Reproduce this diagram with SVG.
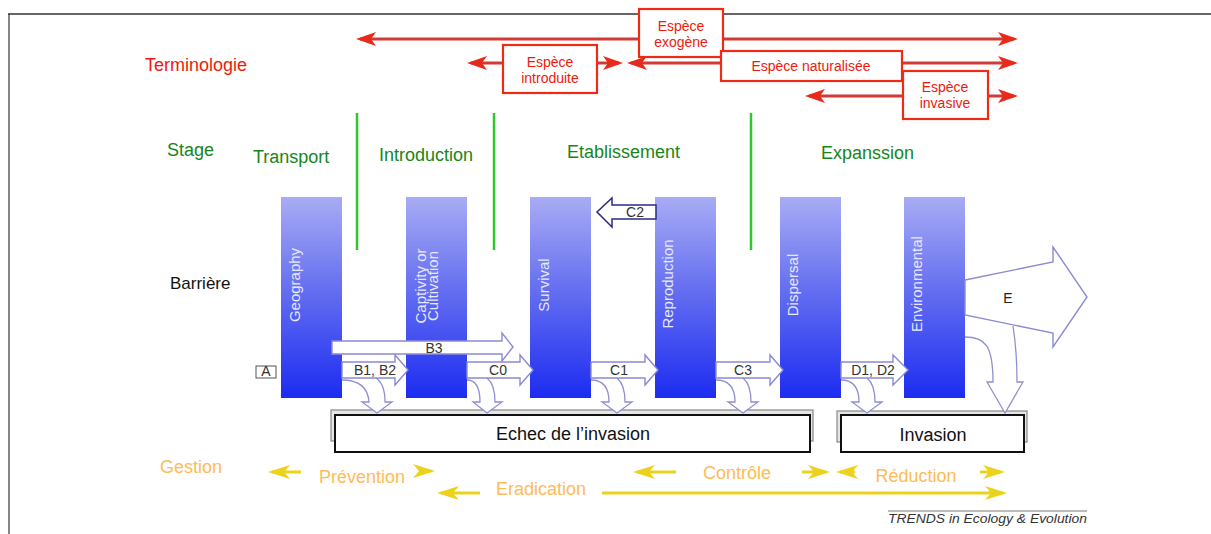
<svg xmlns="http://www.w3.org/2000/svg" width="1211" height="534" viewBox="0 0 1211 534">
<defs>
<linearGradient id="pg" x1="0" y1="0" x2="0" y2="1">
<stop offset="0" stop-color="#a8acf4"/>
<stop offset="0.45" stop-color="#6670f0"/>
<stop offset="1" stop-color="#1c2cf0"/>
</linearGradient>
<marker id="rh" viewBox="0 0 20 14" refX="16" refY="7" markerWidth="20" markerHeight="14" markerUnits="userSpaceOnUse" orient="auto-start-reverse">
<path d="M0,0 L20,7 L0,14 L5,7 z" fill="#e82a1c"/>
</marker>
<marker id="yh" viewBox="0 0 22 14" refX="18" refY="7" markerWidth="22" markerHeight="14" markerUnits="userSpaceOnUse" orient="auto-start-reverse">
<path d="M0,0 L22,7 L0,14 L6,7 z" fill="#ecd21a"/>
</marker>
</defs>
<style>
.t{font-family:"Liberation Sans",Arial,sans-serif}
.red{fill:#ee1a0c;font-size:14px;text-anchor:middle}
.rbox{fill:#fff;stroke:#f02a14;stroke-width:2.2}
.rline{stroke:#d23a36;stroke-width:3;fill:none}
.green{fill:#17861a;font-size:18px}
.gline{stroke:#2cc82c;stroke-width:2.5}
.pillar{fill:url(#pg)}
.plab{fill:#e6e8ff;font-size:15px;text-anchor:middle}
.harr{fill:#fff;stroke:#8a8ad6;stroke-width:1.4}
.darr{fill:#fff;stroke:#9090d0;stroke-width:1.3}
.alab{fill:#333;font-size:14px;text-anchor:middle}
.orange{fill:#ffbb55;font-size:18px}
.yline{stroke:#ecd21a;stroke-width:3;fill:none}
</style>
<rect width="1211" height="534" fill="#fff"/>
<g id="frame">
<line x1="8" y1="14" x2="1211" y2="14" stroke="#666" stroke-width="2"/>
<line x1="9" y1="14" x2="9" y2="534" stroke="#333" stroke-width="1.2"/>
</g>
<g id="row-labels" class="t">
<text x="145" y="71" fill="#ee1a0c" font-size="18">Terminologie</text>
<text x="167" y="156" class="green">Stage</text>
<text x="170" y="289" fill="#111" font-size="17">Barrière</text>
<text x="160" y="473" class="orange">Gestion</text>
</g>
<g id="connectors">
<g id="terminology-arrows">
<line class="rline" x1="360" y1="39" x2="1014" y2="39" marker-start="url(#rh)" marker-end="url(#rh)"/>
<line class="rline" x1="471" y1="63" x2="619" y2="63" marker-start="url(#rh)" marker-end="url(#rh)"/>
<line class="rline" x1="631" y1="63" x2="1014" y2="63" marker-start="url(#rh)" marker-end="url(#rh)"/>
<line class="rline" x1="809" y1="96" x2="1014" y2="96" marker-start="url(#rh)" marker-end="url(#rh)"/>
</g>
</g>
<g id="term-exogene" class="t">
<rect class="rbox" x="639" y="9" width="84" height="48"/>
<text class="red" x="681" y="31">Espèce</text>
<text class="red" x="681" y="47">exogène</text>
</g>
<g id="term-introduite" class="t">
<rect class="rbox" x="503" y="45" width="94" height="48"/>
<text class="red" x="550" y="67">Espèce</text>
<text class="red" x="550" y="83">introduite</text>
</g>
<g id="term-naturalisee" class="t">
<rect class="rbox" x="721" y="51" width="181" height="30"/>
<text class="red" x="811" y="71">Espèce naturalisée</text>
</g>
<g id="term-invasive" class="t">
<rect class="rbox" x="903" y="71" width="85" height="48"/>
<text class="red" x="945" y="92">Espèce</text>
<text class="red" x="945" y="108">invasive</text>
</g>
<g id="stages" class="t">
<text class="green" x="253" y="163">Transport</text>
<text class="green" x="379" y="161">Introduction</text>
<text class="green" x="567" y="158">Etablissement</text>
<text class="green" x="821" y="159">Expanssion</text>
<line class="gline" x1="357" y1="113" x2="357" y2="250"/>
<line class="gline" x1="494" y1="113" x2="494" y2="250"/>
<line class="gline" x1="751" y1="113" x2="751" y2="250"/>
</g>
<g id="barrier-geography" class="t">
<rect class="pillar" x="281" y="197" width="61" height="201"/>
<text class="plab" transform="translate(300,285) rotate(-90)">Geography</text>
</g>
<g id="barrier-captivity" class="t">
<rect class="pillar" x="406" y="197" width="61" height="201"/>
<text class="plab" transform="translate(426,286) rotate(-90)">Captivity or</text>
<text class="plab" transform="translate(438,286) rotate(-90)">Cultivation</text>
</g>
<g id="barrier-survival" class="t">
<rect class="pillar" x="530" y="197" width="61" height="201"/>
<text class="plab" transform="translate(549,285) rotate(-90)">Survival</text>
</g>
<g id="barrier-reproduction" class="t">
<rect class="pillar" x="655" y="197" width="61" height="201"/>
<text class="plab" transform="translate(673,284) rotate(-90)">Reproduction</text>
</g>
<g id="barrier-dispersal" class="t">
<rect class="pillar" x="780" y="197" width="61" height="201"/>
<text class="plab" transform="translate(798,285) rotate(-90)">Dispersal</text>
</g>
<g id="barrier-environmental" class="t">
<rect class="pillar" x="904" y="197" width="61" height="201"/>
<text class="plab" transform="translate(922,284) rotate(-90)">Environmental</text>
</g>
<g id="outcome-echec" class="t">
<rect x="331" y="410" width="482" height="31" fill="#e6e6e6" stroke="#888" stroke-width="1.2"/>
<rect x="335" y="415" width="475" height="37" fill="#fff" stroke="#111" stroke-width="2"/>
<text x="573" y="440" fill="#111" font-size="18" text-anchor="middle">Echec de l’invasion</text>
</g>
<g id="outcome-invasion" class="t">
<rect x="837" y="411" width="190" height="31" fill="#e6e6e6" stroke="#888" stroke-width="1.2"/>
<rect x="841" y="415" width="183" height="37" fill="#fff" stroke="#111" stroke-width="2"/>
<text x="933" y="441" fill="#111" font-size="18" text-anchor="middle">Invasion</text>
</g>
<g id="pathway-arrows" class="t">
<path class="darr" d="M342,380 C360,380 368,388 369,402 L362,402 L377,413 L392,402 L385,402 C385,390 382,382 376,378"/>
<path class="darr" d="M467,380 C476,380 480,388 480,402 L473,402 L487,413 L502,402 L495,402 C495,390 492,382 487,378"/>
<path class="darr" d="M591,380 C604,380 609,388 609,402 L602,402 L617,413 L632,402 L625,402 C625,390 622,382 617,378"/>
<path class="darr" d="M716,380 C729,380 735,388 735,402 L728,402 L743,413 L758,402 L751,402 C751,390 748,382 743,378"/>
<path class="darr" d="M841,380 C853,380 859,388 859,402 L852,402 L867,413 L882,402 L875,402 C875,390 872,382 867,378"/>
<polygon class="harr" points="965,280 1053,262 1053,247 1087,297 1053,347 1053,333 965,315"/>
<path class="darr" d="M965,337 C985,337 993,345 993,382 L987,382 L1005,413 L1023,382 L1017,382 C1017,360 1016,345 1013,326"/>
<text x="1008" y="303" fill="#222" font-size="14" text-anchor="middle">E</text>
<polygon class="harr" stroke="#a8a8e0" points="332,341 502,341 502,333 513,347 502,361 502,354 332,354"/>
<text class="alab" x="434" y="353">B3</text>
<polygon class="harr" points="342,362 395,362 395,355 408,370 395,385 395,378 342,378"/>
<text class="alab" x="375" y="375">B1, B2</text>
<polygon class="harr" points="467,362 520,362 520,355 533,370 520,385 520,378 467,378"/>
<text class="alab" x="498" y="375">C0</text>
<polygon class="harr" points="591,362 645,362 645,355 658,370 645,385 645,378 591,378"/>
<text class="alab" x="619" y="375">C1</text>
<polygon class="harr" points="716,362 770,362 770,355 783,370 770,385 770,378 716,378"/>
<text class="alab" x="743" y="375">C3</text>
<polygon class="harr" points="841,362 893,362 893,355 908,370 893,385 893,378 841,378"/>
<text class="alab" x="873" y="375">D1, D2</text>
<polygon fill="#fff" stroke="#2a2a86" stroke-width="1.5" points="656,205 612,205 612,198 597,212 612,227 612,219 656,219"/>
<text class="alab" x="635" y="217">C2</text>
<rect x="256" y="366" width="20" height="12" fill="#fff" stroke="#555" stroke-width="1"/>
<text class="alab" x="266" y="376" font-size="12">A</text>
</g>
<g id="management" class="t">
<line class="yline" x1="301" y1="472" x2="272" y2="472" marker-end="url(#yh)"/>
<line class="yline" x1="423" y1="471" x2="431" y2="471" marker-end="url(#yh)"/>
<line class="yline" x1="480" y1="493" x2="441" y2="493" marker-end="url(#yh)"/>
<line class="yline" x1="602" y1="493" x2="1003" y2="493" marker-end="url(#yh)"/>
<line class="yline" x1="676" y1="472" x2="637" y2="472" marker-end="url(#yh)"/>
<line class="yline" x1="802" y1="472" x2="826" y2="472" marker-end="url(#yh)"/>
<line class="yline" x1="855" y1="472" x2="840" y2="472" marker-end="url(#yh)"/>
<line class="yline" x1="980" y1="472" x2="1001" y2="472" marker-end="url(#yh)"/>
<text class="orange" x="362" y="483" text-anchor="middle">Prévention</text>
<text class="orange" x="541" y="495" text-anchor="middle">Eradication</text>
<text class="orange" x="737" y="479" text-anchor="middle">Contrôle</text>
<text class="orange" x="916" y="482" text-anchor="middle">Réduction</text>
</g>
<g id="credit" class="t">
<line x1="888" y1="511" x2="1087" y2="511" stroke="#777" stroke-width="1"/>
<text x="888" y="523" fill="#333" font-size="13.5" font-style="italic" textLength="199" lengthAdjust="spacingAndGlyphs">TRENDS in Ecology &amp; Evolution</text>
</g>
</svg>
